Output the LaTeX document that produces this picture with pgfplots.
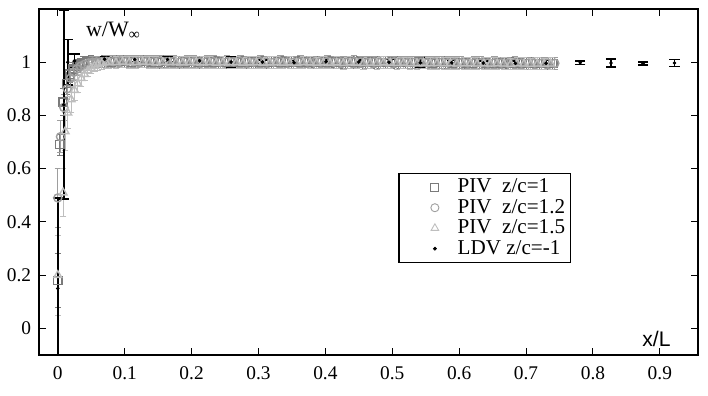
\documentclass[border=0pt]{standalone}
\usepackage{pgfplots}
\pgfplotsset{compat=1.18}
\usepackage{fontspec}
\setmainfont{Liberation Serif}
\newfontfamily\arialf{Liberation Sans}
\newfontfamily\timesf{Liberation Serif}
\definecolor{csq}{HTML}{7A7A7A}
\definecolor{cci}{HTML}{9E9E9E}
\definecolor{ctr}{HTML}{BEBEBE}
\begin{document}
\begin{tikzpicture}
\begin{axis}[
  scale only axis, width=374.4pt, height=196.6pt,
  xmin=-0.028, xmax=0.957, ymin=-0.1, ymax=1.2,
  xtick={0,0.1,0.2,0.3,0.4,0.5,0.6,0.7,0.8,0.9},
  xticklabels={0,0.1,0.2,0.3,0.4,0.5,0.6,0.7,0.8,0.9},
  ytick={0,0.2,0.4,0.6,0.8,1},
  yticklabels={0,0.2,0.4,0.6,0.8,1},
  tick label style={font=\timesf\fontsize{11}{12}\selectfont},
  tick align=inside, major tick length=4pt,
  xticklabel style={yshift=-3pt},
  yticklabel style={xshift=-1pt},
  axis line style={line width=0.9pt},
  every tick/.style={line width=0.6pt, black},
  legend style={at={(axis description cs:0.545,0.526)}, anchor=north west,
    draw=black, line width=0.8pt, font=\timesf\fontsize{12}{13}\selectfont,
    inner xsep=1pt, inner ysep=1pt, row sep=-1.8pt},
  legend cell align=left,
  legend image code/.code={\path (0cm,0cm) (1.04cm,0cm); \draw[#1, mark options={line width=0.5pt}] plot coordinates {(0.67cm,0cm)};},
]
% PIV z/c=1 (squares)
\addplot[only marks, mark=square, mark size=2.3pt, color=csq, mark options={line width=0.8pt},
  error bars/.cd, y dir=both, y explicit,
  error bar style={line width=0.6pt, color=csq},
  error mark options={rotate=90, mark size=1.8pt, line width=0.6pt, color=csq}]
table[row sep=\\, x=x, y=y, y error=e] {
x y e\\
0 0.18 0.10\\ 0.003 0.69 0.04\\ 0.008 0.85 0.05\\ 0.013 0.92 0.04\\ 0.018 0.955 0.03\\
0.023 0.975 0.025\\ 0.028 0.985 0.022\\ 0.033 0.993 0.022\\ 0.038 0.998 0.022\\ 0.044 1.000 0.022\\
0.050 1.002 0.022\\ 0.060 1.001 0.022\\ 0.070 1.002 0.022\\ 0.080 1.001 0.022\\ 0.090 1.003 0.022\\
0.100 1.002 0.022\\ 0.110 1.000 0.022\\ 0.120 1.002 0.022\\ 0.130 1.003 0.022\\ 0.140 1.001 0.022\\
0.150 1.000 0.022\\ 0.160 1.002 0.022\\ 0.170 1.001 0.022\\ 0.180 0.999 0.022\\ 0.190 1.001 0.022\\
0.200 1.002 0.022\\ 0.210 1.000 0.022\\ 0.220 0.999 0.022\\ 0.230 1.001 0.022\\ 0.240 1.000 0.022\\
0.250 0.998 0.022\\ 0.260 1.000 0.022\\ 0.270 1.001 0.022\\ 0.280 0.999 0.022\\ 0.290 1.000 0.022\\
0.300 1.001 0.022\\ 0.310 0.999 0.022\\ 0.320 0.998 0.022\\ 0.330 1.000 0.022\\ 0.340 1.001 0.022\\
0.350 0.999 0.022\\ 0.360 1.000 0.022\\ 0.370 1.001 0.022\\ 0.380 0.999 0.022\\ 0.390 0.998 0.022\\
0.400 1.000 0.022\\ 0.410 1.001 0.022\\ 0.420 1.000 0.022\\ 0.430 0.999 0.022\\ 0.440 1.000 0.022\\
0.450 1.001 0.022\\ 0.460 0.999 0.022\\ 0.470 1.000 0.022\\ 0.480 0.999 0.022\\ 0.490 0.998 0.022\\
0.500 1.000 0.022\\ 0.510 0.999 0.022\\ 0.520 0.998 0.022\\ 0.530 0.999 0.022\\ 0.540 1.000 0.022\\
0.550 0.998 0.022\\ 0.560 0.997 0.022\\ 0.570 0.999 0.022\\ 0.580 0.998 0.022\\ 0.590 0.997 0.022\\
0.600 0.998 0.022\\ 0.610 0.997 0.022\\ 0.620 0.996 0.022\\ 0.630 0.998 0.022\\ 0.640 0.997 0.022\\
0.650 0.996 0.022\\ 0.660 0.997 0.022\\ 0.670 0.996 0.022\\ 0.680 0.995 0.022\\ 0.690 0.997 0.022\\
0.700 0.996 0.022\\ 0.710 0.995 0.022\\ 0.720 0.996 0.022\\ 0.730 0.995 0.022\\ 0.740 0.996 0.022\\
};
\addlegendentry{PIV\ \ z/c=1}
% PIV z/c=1.2 (circles)
\addplot[only marks, mark=o, mark size=2.3pt, color=cci, mark options={line width=0.8pt},
  error bars/.cd, y dir=both, y explicit,
  error bar style={line width=0.6pt, color=cci},
  error mark options={rotate=90, mark size=1.8pt, line width=0.6pt, color=cci}]
table[row sep=\\, x=x, y=y, y error=e] {
x y e\\
0 0.49 0.11\\ 0.004 0.72 0.06\\ 0.009 0.83 0.05\\ 0.014 0.90 0.04\\ 0.019 0.94 0.035\\
0.024 0.962 0.03\\ 0.029 0.975 0.025\\ 0.034 0.985 0.022\\ 0.040 0.992 0.022\\ 0.046 0.997 0.022\\
0.052 1.000 0.022\\ 0.058 1.001 0.022\\ 0.065 1.001 0.022\\ 0.073 1.003 0.022\\ 0.083 1.002 0.022\\
0.093 1.004 0.022\\ 0.103 1.003 0.022\\ 0.113 1.002 0.022\\ 0.123 1.004 0.022\\ 0.133 1.003 0.022\\
0.143 1.002 0.022\\ 0.153 1.004 0.022\\ 0.163 1.002 0.022\\ 0.173 1.003 0.022\\ 0.183 1.001 0.022\\
0.193 1.003 0.022\\ 0.203 1.002 0.022\\ 0.213 1.001 0.022\\ 0.223 1.003 0.022\\ 0.233 1.002 0.022\\
0.243 1.000 0.022\\ 0.253 1.002 0.022\\ 0.263 1.001 0.022\\ 0.273 1.003 0.022\\ 0.283 1.001 0.022\\
0.293 1.000 0.022\\ 0.303 1.002 0.022\\ 0.313 1.001 0.022\\ 0.323 1.000 0.022\\ 0.333 1.002 0.022\\
0.343 1.001 0.022\\ 0.353 1.000 0.022\\ 0.363 1.002 0.022\\ 0.373 1.001 0.022\\ 0.383 1.000 0.022\\
0.393 1.001 0.022\\ 0.403 1.002 0.022\\ 0.413 1.000 0.022\\ 0.423 1.001 0.022\\ 0.433 1.000 0.022\\
0.443 1.002 0.022\\ 0.453 1.001 0.022\\ 0.463 0.999 0.022\\ 0.473 1.001 0.022\\ 0.483 1.000 0.022\\
0.493 0.999 0.022\\ 0.503 1.001 0.022\\ 0.513 1.000 0.022\\ 0.523 0.999 0.022\\ 0.533 1.000 0.022\\
0.543 0.999 0.022\\ 0.553 0.998 0.022\\ 0.563 1.000 0.022\\ 0.573 0.999 0.022\\ 0.583 0.998 0.022\\
0.593 0.999 0.022\\ 0.603 0.998 0.022\\ 0.613 0.997 0.022\\ 0.623 0.999 0.022\\ 0.633 0.998 0.022\\
0.643 0.997 0.022\\ 0.653 0.998 0.022\\ 0.663 0.997 0.022\\ 0.673 0.996 0.022\\ 0.683 0.998 0.022\\
0.693 0.997 0.022\\ 0.703 0.996 0.022\\ 0.713 0.997 0.022\\ 0.723 0.996 0.022\\ 0.733 0.997 0.022\\
0.743 0.996 0.022\\
};
\addlegendentry{PIV\ \ z/c=1.2}
% PIV z/c=1.5 (triangles)
\addplot[only marks, mark=triangle, mark size=2.5pt, color=ctr, mark options={line width=0.8pt},
  error bars/.cd, y dir=both, y explicit,
  error bar style={line width=0.6pt, color=ctr},
  error mark options={rotate=90, mark size=1.8pt, line width=0.6pt, color=ctr}]
table[row sep=\\, x=x, y=y, y error=e] {
x y e\\
0 0.20 0.15\\ 0.008 0.51 0.09\\ 0.011 0.74 0.07\\ 0.015 0.81 0.06\\ 0.020 0.86 0.05\\
0.025 0.895 0.04\\ 0.030 0.92 0.035\\ 0.035 0.94 0.03\\ 0.040 0.955 0.025\\ 0.045 0.968 0.022\\
0.050 0.978 0.022\\ 0.055 0.986 0.022\\ 0.060 0.992 0.022\\ 0.066 0.996 0.022\\ 0.072 0.999 0.022\\
0.077 1.000 0.022\\ 0.087 0.999 0.022\\ 0.097 1.001 0.022\\ 0.107 1.000 0.022\\ 0.117 0.999 0.022\\
0.127 1.001 0.022\\ 0.137 1.000 0.022\\ 0.147 0.998 0.022\\ 0.157 1.000 0.022\\ 0.167 0.999 0.022\\
0.177 1.000 0.022\\ 0.187 0.998 0.022\\ 0.197 0.999 0.022\\ 0.207 1.000 0.022\\ 0.217 0.998 0.022\\
0.227 0.999 0.022\\ 0.237 0.997 0.022\\ 0.247 0.999 0.022\\ 0.257 0.998 0.022\\ 0.267 0.999 0.022\\
0.277 0.997 0.022\\ 0.287 0.998 0.022\\ 0.297 0.999 0.022\\ 0.307 0.997 0.022\\ 0.317 0.998 0.022\\
0.327 0.999 0.022\\ 0.337 0.997 0.022\\ 0.347 0.998 0.022\\ 0.357 0.997 0.022\\ 0.367 0.999 0.022\\
0.377 0.998 0.022\\ 0.387 0.997 0.022\\ 0.397 0.998 0.022\\ 0.407 0.997 0.022\\ 0.417 0.998 0.022\\
0.427 0.996 0.022\\ 0.437 0.998 0.022\\ 0.447 0.997 0.022\\ 0.457 0.996 0.022\\ 0.467 0.997 0.022\\
0.477 0.996 0.022\\ 0.487 0.998 0.022\\ 0.497 0.997 0.022\\ 0.507 0.996 0.022\\ 0.517 0.997 0.022\\
0.527 0.995 0.022\\ 0.537 0.996 0.022\\ 0.547 0.997 0.022\\ 0.557 0.995 0.022\\ 0.567 0.996 0.022\\
0.577 0.995 0.022\\ 0.587 0.996 0.022\\ 0.597 0.994 0.022\\ 0.607 0.995 0.022\\ 0.617 0.996 0.022\\
0.627 0.994 0.022\\ 0.637 0.995 0.022\\ 0.647 0.994 0.022\\ 0.657 0.995 0.022\\ 0.667 0.994 0.022\\
0.677 0.993 0.022\\ 0.687 0.995 0.022\\ 0.697 0.994 0.022\\ 0.707 0.993 0.022\\ 0.717 0.994 0.022\\
0.727 0.993 0.022\\ 0.737 0.994 0.022\\
};
\addlegendentry{PIV\ \ z/c=1.5}
% LDV z/c=-1
\addplot[only marks, mark=*, mark size=0.8pt, color=black,
  error bars/.cd, y dir=both, y explicit,
  error bar style={line width=0.9pt, color=black},
  error mark options={rotate=90, mark size=2.9pt, line width=0.9pt, color=black}]
table[row sep=\\, x=x, y=y, y error=e] {
x y e\\
0 0.15 0.34\\ 0.009 0.84 0.355\\ 0.015 1.000 0.086\\ 0.025 1.005 0.025\\
0.070 1.011 0.008\\ 0.115 1.010 0.007\\ 0.164 1.010 0.010\\ 0.212 1.005 0.007\\
0.259 1.001 0.019\\ 0.306 1.001 0.007\\ 0.353 0.998 0.007\\ 0.401 1.002 0.008\\
0.450 1.001 0.008\\ 0.495 1.000 0.012\\ 0.542 0.998 0.017\\ 0.589 0.998 0.008\\
0.636 0.997 0.007\\ 0.684 0.996 0.008\\ 0.730 0.996 0.010\\ 0.781 0.998 0.006\\
0.827 0.997 0.015\\ 0.875 0.995 0.006\\ 0.922 0.997 0.013\\
};
\addlegendentry{LDV z/c=-1}
\node[anchor=center, font=\timesf\fontsize{12.5}{14}\selectfont] at (axis cs:0.083,1.117) {w/W\textsubscript{∞}};
\node[anchor=center, font=\arialf\fontsize{12}{14}\selectfont] at (axis cs:0.895,-0.041) {x/L};
\end{axis}
\pgfresetboundingbox
\path[use as bounding box] (-22.2pt,-23.3pt) rectangle (380.1pt,201.7pt);
\end{tikzpicture}
\end{document}
